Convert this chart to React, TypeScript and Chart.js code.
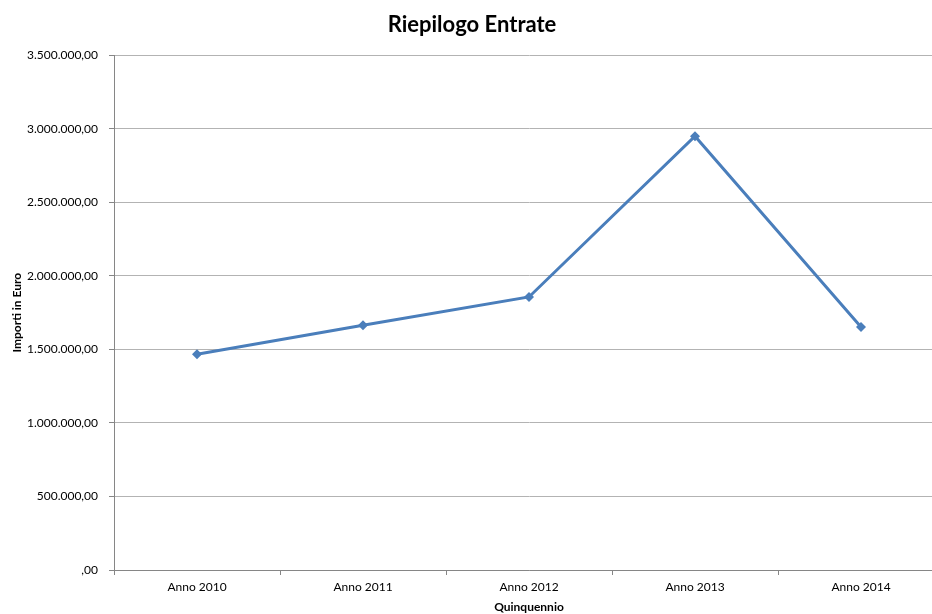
import React, { useEffect, useRef } from "react";
import { Chart, registerables } from "chart.js";

Chart.register(...registerables);

const categories = ["Anno 2010", "Anno 2011", "Anno 2012", "Anno 2013", "Anno 2014"];
const entrate = [1468000, 1665000, 1857000, 2950000, 1652000];
const yTicks = [0, 500000, 1000000, 1500000, 2000000, 2500000, 3000000, 3500000];

const FONT = "Lato, 'Open Sans', sans-serif";

function fmt(v: number): string {
  const intPart = Math.floor(v);
  const s = intPart === 0 ? "" : intPart.toString().replace(/\B(?=(\d{3})+(?!\d))/g, ".");
  return s + ",00";
}

export default function App() {
  const ref = useRef<HTMLCanvasElement | null>(null);
  useEffect(() => {
    document.body.style.margin = "0";
    document.body.style.overflow = "hidden";
    const ctx = ref.current!.getContext("2d")!;
    const chart = new Chart(ctx, {
      type: "line",
      data: {
        labels: categories,
        datasets: [
          {
            label: "Entrate",
            data: entrate,
            borderColor: "#4a7ebb",
            backgroundColor: "#4a7ebb",
            borderWidth: 3,
            pointStyle: "rectRot",
            pointRadius: 5,
            pointBorderWidth: 0,
            tension: 0,
          },
        ],
      },
      options: {
        animation: false,
        responsive: false,
        maintainAspectRatio: false,
        layout: { padding: { left: 0, right: 6, top: 0, bottom: 0 } },
        plugins: {
          legend: { display: false },
          tooltip: { enabled: false },
          title: {
            display: true,
            text: "Riepilogo Entrate",
            color: "#000",
            font: { family: FONT, size: 22, weight: "bold" },
            padding: { top: 12, bottom: 17 },
          },
        },
        scales: {
          x: {
            offset: true,
            grid: {
              offset: true,
              drawOnChartArea: false,
              drawTicks: true,
              tickLength: 5,
              color: "#868686",
            },
            border: { display: true, color: "#868686", width: 1 },
            ticks: {
              color: "#000",
              font: { family: FONT, size: 12 },
              padding: 5,
              maxRotation: 0,
            },
            title: {
              display: true,
              text: "Quinquennio",
              color: "#000",
              font: { family: FONT, size: 12, weight: "bold" },
              padding: { top: 3, bottom: 0 },
            },
            afterFit: (scale: any) => {
              scale.height = 44;
            },
          },
          y: {
            min: 0,
            max: 3500000,
            afterBuildTicks: (scale: any) => {
              scale.ticks = yTicks.map((v) => ({ value: v }));
            },
            grid: {
              color: "#b3b3b3",
              drawTicks: true,
              tickLength: 5,
              tickColor: "#868686",
            },
            border: { display: true, color: "#868686", width: 1 },
            ticks: {
              color: "#000",
              font: { family: FONT, size: 12 },
              padding: 11,
              callback: (v: any) => fmt(Number(v)),
            },
            title: {
              display: true,
              text: "Importi in Euro",
              color: "#000",
              font: { family: FONT, size: 12, weight: "bold" },
              padding: { top: 10, bottom: 0 },
            },
            afterFit: (scale: any) => {
              scale.width = 114;
            },
          },
        },
      },
    });
    return () => chart.destroy();
  }, []);
  return <canvas ref={ref} width={950} height={614} style={{ display: "block" }} />;
}
